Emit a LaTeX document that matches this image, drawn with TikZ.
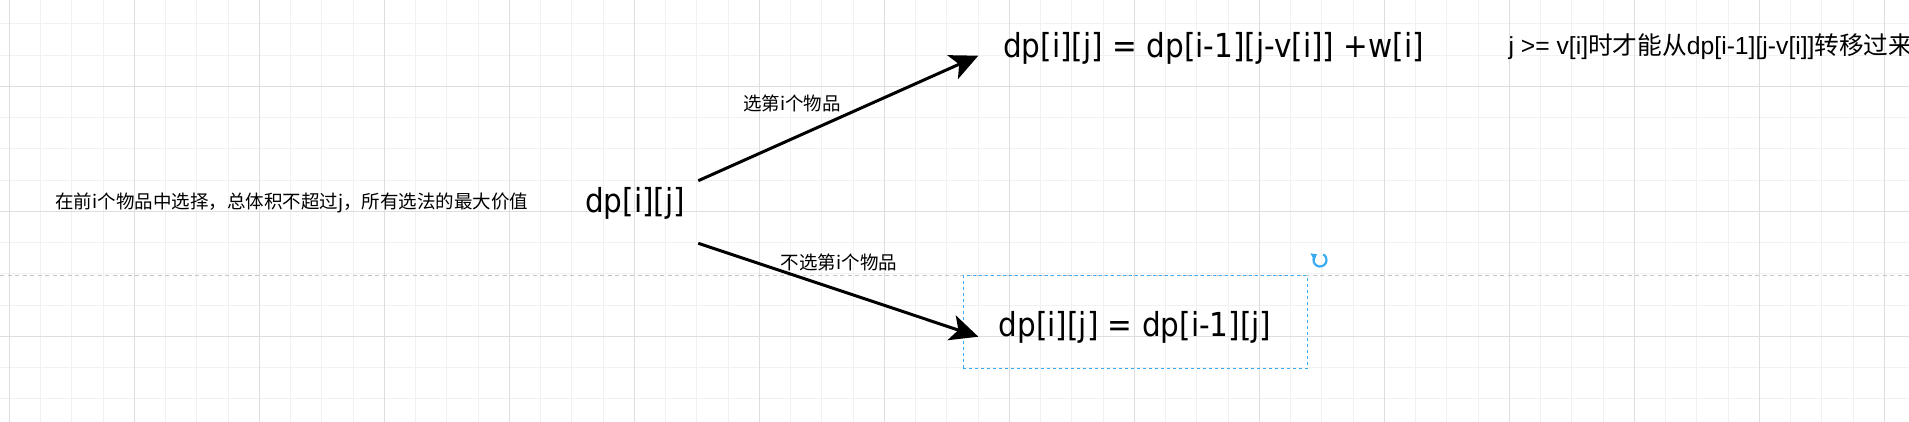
\documentclass[tikz,border=0pt]{standalone}
\usepackage{fontspec}
\setmainfont{DejaVu Sans}
\newfontfamily\cjk{Noto Sans CJK SC}
\newfontfamily\latin{Liberation Sans}
\usetikzlibrary{arrows.meta,positioning}
\definecolor{gridmajor}{HTML}{DEDEDE}
\definecolor{gridminor}{HTML}{F1F1F1}
\definecolor{guide}{HTML}{C4C4C4}
\definecolor{selblue}{HTML}{3AAAF2}

\begin{document}
\begin{tikzpicture}[x=1pt,y=-1pt,
  note/.style={inner sep=0pt,font=\cjk\fontsize{18.5}{22}\selectfont},
  formula/.style={inner sep=0pt,yscale=1.12,font=\fontsize{29.5}{34}\selectfont},
  flow/.style={line width=3pt,-{Stealth[length=28pt,width=26pt,inset=7pt]}}]
\useasboundingbox (0,0) rectangle (1909,422);
\clip (0,0) rectangle (1909,422);
\fill[white] (0,0) rectangle (1909,422);
\foreach \k in {0,...,60} \draw[gridminor,line width=1pt] ({9.4+31.25*\k},0) -- ++(0,422);
\foreach \k in {0,...,12} \draw[gridminor,line width=1pt] (0,{23.8+31.25*\k}) -- ++(1909,0);
\foreach \k in {0,...,15} \draw[gridmajor,line width=1pt] ({9.4+125*\k},0) -- ++(0,422);
\foreach \k in {0,...,2} \draw[gridmajor,line width=1pt] (0,{86.3+125*\k}) -- ++(1909,0);
\draw[guide,line width=1pt,dash pattern=on 4pt off 3.5pt] (0,275.7) -- (1909,275.7);

\node[note] (goal) at (291.8,203) {在前i个物品中选择，总体积不超过j，所有选法的最大价值};
\node[formula] (dp) at (635,203.5) {dp[i][j]};
\node[formula] (pick) at (1213.5,48) {dp[i][j] = dp[i-1][j-v[i]] +w[i]};
\node[draw=selblue,dash pattern=on 3pt off 3pt,line width=1pt,minimum width=344pt,minimum height=93pt,inner sep=0pt] (skipbox) at (1135,322.4) {};
\node[formula] (skip) at ([yshift=-5pt]skipbox.center) {dp[i][j] = dp[i-1][j]};
\node[inner sep=0pt,anchor=west,font=\fontsize{24.7}{29}\selectfont] (cond) at (1508.3,46.5) {\latin j >= v[i]\cjk 时才能从\latin dp[i-1][j-v[i]]\cjk 转移过来};
\node[note] (pickLbl) at (792,103) {选第i个物品};
\node[note] (skipLbl) at (839,262.3) {不选第i个物品};

\coordinate (pickFrom) at (698.3,180.7);
\coordinate (pickTo) at (978.3,55.7);
\coordinate (skipFrom) at (698.3,243.3);
\coordinate (skipTo) at (978.3,336.7);
\draw[flow] (pickFrom) -- (pickTo);
\draw[flow] (skipFrom) -- (skipTo);

\coordinate (rot) at (1320,260);
\draw[selblue,line width=2.2pt,-{Triangle[length=5pt,width=8pt]}] (rot) ++(-60:6.5) arc[start angle=-60,end angle=240,radius=6.5];
\end{tikzpicture}
\end{document}
